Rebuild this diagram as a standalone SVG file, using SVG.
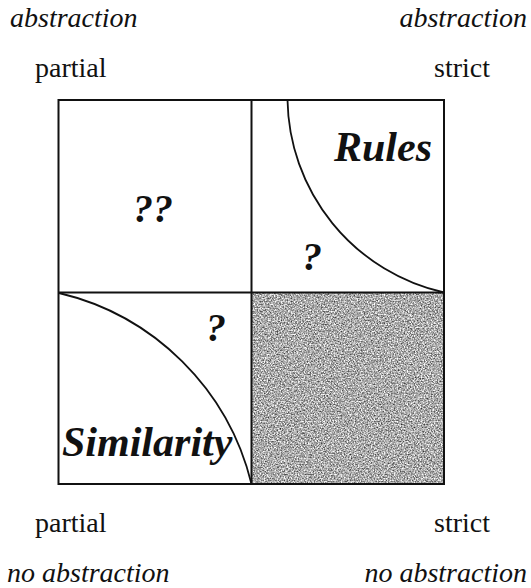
<svg xmlns="http://www.w3.org/2000/svg" width="531" height="588" viewBox="0 0 531 588">
  <style>
    .lbl { font-family: "Liberation Serif", "DejaVu Serif", serif; font-size: 28px; fill: #111; }
    .it { font-style: italic; }
    .big { font-family: "Liberation Serif", "DejaVu Serif", serif; font-style: italic; font-weight: bold; fill: #111; }
    .line { stroke: #111; stroke-width: 2; fill: none; }
    .arc { stroke: #111; stroke-width: 1.8; fill: none; }
  </style>
  <defs>
    <filter id="grain" x="0" y="0" width="100%" height="100%" color-interpolation-filters="sRGB">
      <feTurbulence type="fractalNoise" baseFrequency="0.7" numOctaves="2" seed="7" result="n"/>
      <feColorMatrix in="n" type="matrix" values="1.3 0 0 0 0.02  1.3 0 0 0 0.02  1.3 0 0 0 0.02  0 0 0 0 1" result="g"/>
      <feComposite in="g" in2="SourceGraphic" operator="in"/>
    </filter>
  </defs>
  <rect width="531" height="588" fill="#ffffff"/>

  <g id="axis-labels">
    <text class="lbl it" x="10" y="27">abstraction</text>
    <text class="lbl it" x="527" y="27" text-anchor="end">abstraction</text>
    <text class="lbl" x="35" y="77">partial</text>
    <text class="lbl" x="434" y="77">strict</text>
    <text class="lbl" x="35" y="532">partial</text>
    <text class="lbl" x="434" y="532">strict</text>
    <text class="lbl it" x="7" y="582">no abstraction</text>
    <text class="lbl it" x="527" y="582" text-anchor="end">no abstraction</text>
  </g>

  <g id="cell-shaded">
    <rect x="251.5" y="292.5" width="192.5" height="191.5" fill="#a4a4a4" filter="url(#grain)"/>
  </g>

  <g id="grid">
    <rect class="line" x="58.5" y="100" width="385.5" height="384"/>
    <line class="line" x1="251.5" y1="100" x2="251.5" y2="484"/>
    <line class="line" x1="58.5" y1="292.5" x2="444" y2="292.5"/>
  </g>

  <g id="cell-partial-abstraction">
    <text class="big" x="133" y="222" font-size="40">??</text>
  </g>

  <g id="cell-rules">
    <path class="arc" d="M287.5,100 A200.8,200.8 0 0 0 444,292.5"/>
    <text class="big" x="334" y="161" font-size="42">Rules</text>
    <text class="big" x="302" y="270" font-size="40">?</text>
  </g>

  <g id="cell-similarity">
    <path class="arc" d="M59,293 A259.7,259.7 0 0 1 251.5,484"/>
    <text class="big" x="206" y="341" font-size="40">?</text>
    <text class="big" x="62" y="456" font-size="42">Similarity</text>
  </g>
</svg>
